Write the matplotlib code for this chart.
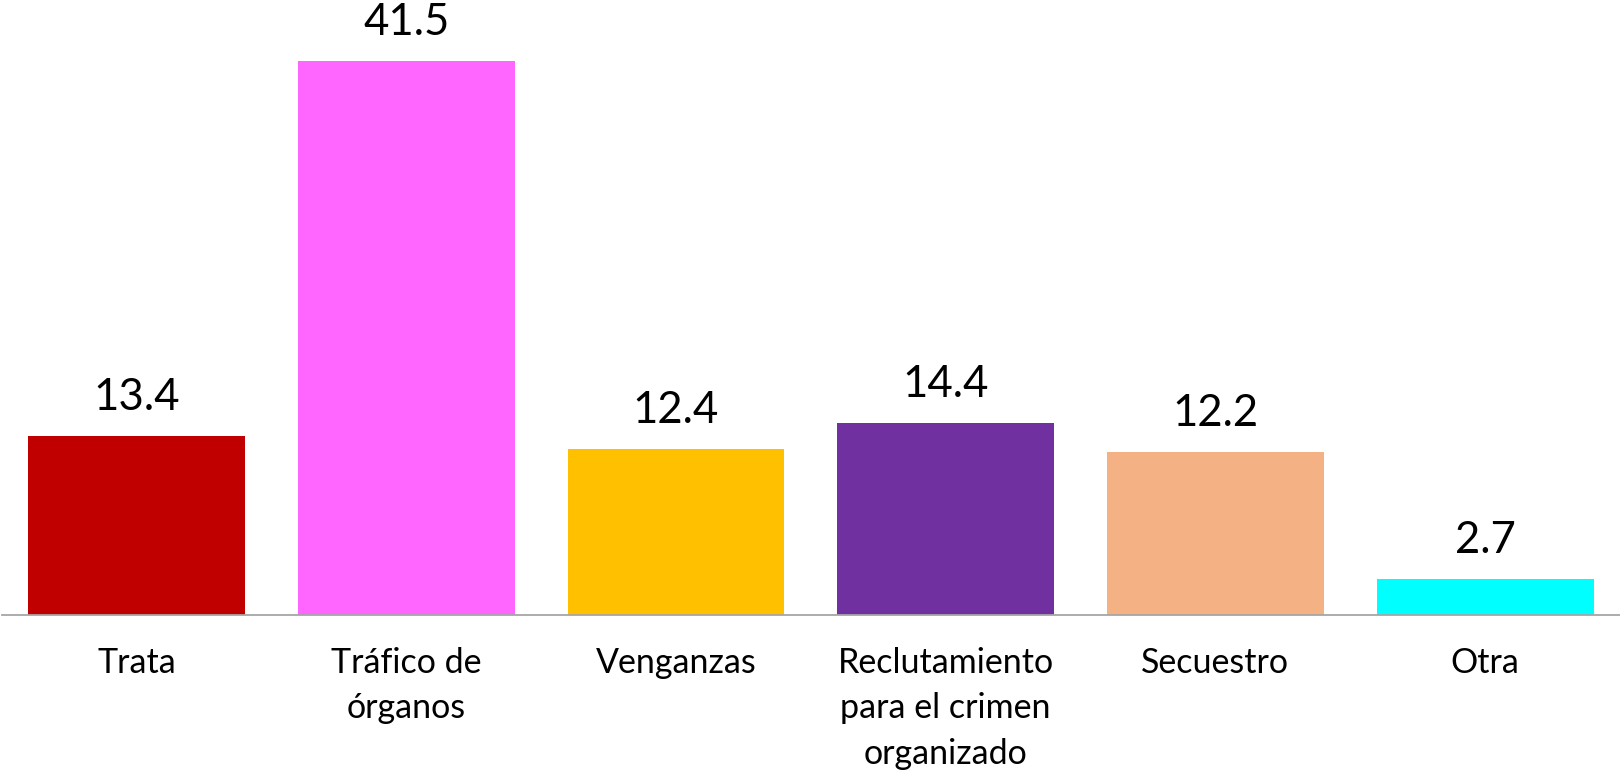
import matplotlib.pyplot as plt
import numpy as np

# Datos
categorias = ["Trata", "Tráfico de\nórganos", "Venganzas",
              "Reclutamiento\npara el crimen\norganizado", "Secuestro", "Otra"]
valores = [13.4, 41.5, 12.4, 14.4, 12.2, 2.7]
colores = ["#C00000", "#FF66FF", "#FFC000", "#7030A0", "#F4B183", "#00FFFF"]

plt.rcParams['font.family'] = ['Lato', 'DejaVu Sans']

fig = plt.figure(figsize=(16.2, 7.73), dpi=100)
ax = fig.add_axes([0.001, 0.2044, 0.999, 0.7956])

x = np.arange(len(categorias))
bars = ax.bar(x, valores, width=0.804, color=colores, zorder=2)

# etiquetas de valor encima de cada barra
for b, v in zip(bars, valores):
    ax.annotate(f"{v:.1f}", (b.get_x() + b.get_width() / 2, v),
                xytext=(0, 13), textcoords="offset points",
                ha="center", va="bottom", fontsize=31.5, color="#000000")

ax.set_xlim(-0.5, 5.5)
ax.set_ylim(0, 46.07)
ax.set_xticks(x)
ax.set_xticklabels(categorias, fontsize=24.5, linespacing=1.52)
ax.tick_params(axis="x", length=0, pad=23)
ax.set_yticks([])

for s in ["top", "left", "right"]:
    ax.spines[s].set_visible(False)
ax.spines["bottom"].set_color("#A6A6A6")
ax.spines["bottom"].set_linewidth(1.3)
ax.spines["bottom"].set_zorder(3)

fig.savefig("out.png", dpi=100)
